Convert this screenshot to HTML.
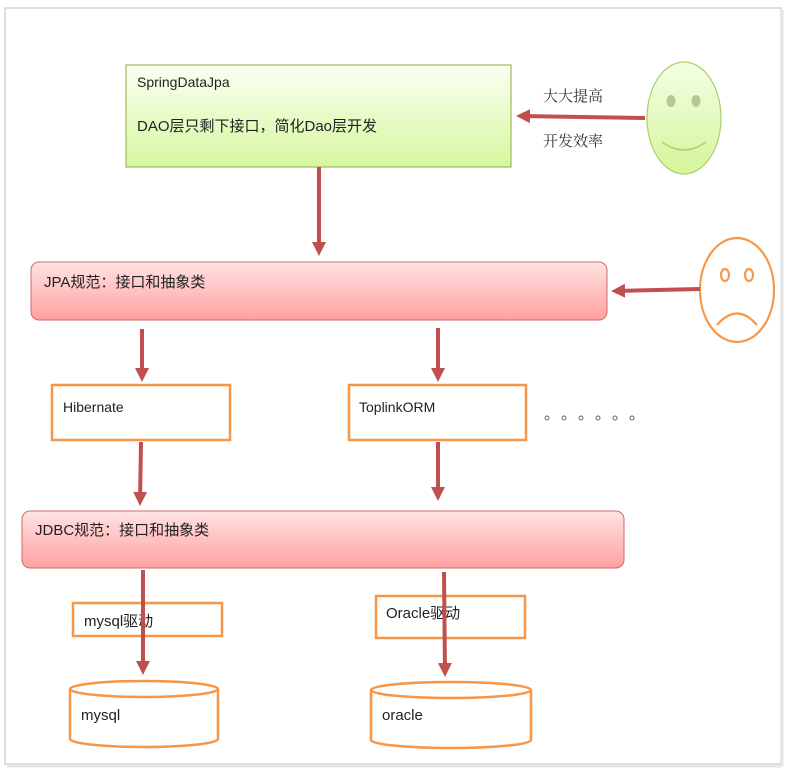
<!DOCTYPE html>
<html><head><meta charset="utf-8"><style>
html,body{margin:0;padding:0;background:#fff;width:791px;height:773px;overflow:hidden}
text{font-family:"Liberation Sans","Noto Sans CJK SC",sans-serif;font-size:14px;fill:#222}
</style></head><body>
<svg width="791" height="773" viewBox="0 0 791 773" xmlns="http://www.w3.org/2000/svg">
<defs>
<linearGradient id="g" x1="0" y1="0" x2="0" y2="1"><stop offset="0" stop-color="#fbfff2"/><stop offset="1" stop-color="#d6f7a0"/></linearGradient>
<linearGradient id="p" x1="0" y1="0" x2="0" y2="1"><stop offset="0" stop-color="#ffe3e3"/><stop offset="1" stop-color="#ffa0a0"/></linearGradient>
<linearGradient id="f" x1="0" y1="0" x2="0" y2="1"><stop offset="0" stop-color="#f4ffe6"/><stop offset="1" stop-color="#d4f59a"/></linearGradient>
<marker id="a" markerWidth="3.5" markerHeight="3.5" refX="2.5" refY="1.75" orient="auto" markerUnits="strokeWidth"><path d="M0,0 L3.5,1.75 L0,3.5 z" fill="#c0504d"/></marker>
</defs>
<rect x="5" y="8" width="776" height="756" fill="#fff" stroke="#d4d4d4" stroke-width="1.5"/>
<line x1="782" y1="10" x2="782" y2="766" stroke="#e6e6e6" stroke-width="3"/>
<line x1="7" y1="766" x2="782" y2="766" stroke="#e6e6e6" stroke-width="3"/>

<rect x="126" y="65" width="385" height="102" fill="url(#g)" stroke="#9bbb59" stroke-width="1.2"/>
<text x="137" y="87">SpringDataJpa</text>
<text x="137" y="131" style="font-size:15px">DAO层只剩下接口，简化Dao层开发</text>

<ellipse cx="684" cy="118" rx="37" ry="56" fill="url(#f)" stroke="#a9d070" stroke-width="1.2"/>
<ellipse cx="671" cy="101" rx="4.5" ry="6" fill="#b5c98f"/>
<ellipse cx="696" cy="101" rx="4.5" ry="6" fill="#b5c98f"/>
<path d="M662,142 Q684,158 706,142" fill="none" stroke="#a9d070" stroke-width="1.4"/>
<text x="543" y="101" style="font-family:'Liberation Serif','Noto Serif CJK SC',serif;font-size:15px;fill:#333">大大提高</text>
<text x="543" y="146" style="font-family:'Liberation Serif','Noto Serif CJK SC',serif;font-size:15px;fill:#333">开发效率</text>
<line x1="645" y1="118" x2="520" y2="116" stroke="#c0504d" stroke-width="4" marker-end="url(#a)"/>

<line x1="319" y1="167" x2="319" y2="252" stroke="#c0504d" stroke-width="4" marker-end="url(#a)"/>

<rect x="31" y="262" width="576" height="58" rx="8" fill="url(#p)" stroke="#d06a6a" stroke-width="1"/>
<text x="44" y="287" style="font-size:15px">JPA规范：接口和抽象类</text>

<ellipse cx="737" cy="290" rx="37" ry="52" fill="#fff" stroke="#f79646" stroke-width="2.2"/>
<ellipse cx="725" cy="275" rx="4" ry="6" fill="none" stroke="#f79646" stroke-width="2.2"/>
<ellipse cx="749" cy="275" rx="4" ry="6" fill="none" stroke="#f79646" stroke-width="2.2"/>
<path d="M717,325 Q737,302 757,325" fill="none" stroke="#f79646" stroke-width="2.2"/>
<line x1="700" y1="289" x2="615" y2="291" stroke="#c0504d" stroke-width="4" marker-end="url(#a)"/>

<line x1="142" y1="329" x2="142" y2="378" stroke="#c0504d" stroke-width="4" marker-end="url(#a)"/>
<line x1="438" y1="328" x2="438" y2="378" stroke="#c0504d" stroke-width="4" marker-end="url(#a)"/>

<rect x="52" y="385" width="178" height="55" fill="#fff" stroke="#f79646" stroke-width="2.5"/>
<text x="63" y="412">Hibernate</text>
<rect x="349" y="385" width="177" height="55" fill="#fff" stroke="#f79646" stroke-width="2.5"/>
<text x="359" y="412">ToplinkORM</text>
<g fill="none" stroke="#666" stroke-width="1">
<circle cx="547" cy="418" r="2"/><circle cx="564" cy="418" r="2"/><circle cx="581" cy="418" r="2"/><circle cx="598" cy="418" r="2"/><circle cx="615" cy="418" r="2"/><circle cx="632" cy="418" r="2"/>
</g>

<line x1="141" y1="442" x2="140" y2="502" stroke="#c0504d" stroke-width="4" marker-end="url(#a)"/>
<line x1="438" y1="442" x2="438" y2="497" stroke="#c0504d" stroke-width="4" marker-end="url(#a)"/>

<rect x="22" y="511" width="602" height="57" rx="8" fill="url(#p)" stroke="#d06a6a" stroke-width="1"/>
<text x="35" y="535" style="font-size:15px">JDBC规范：接口和抽象类</text>

<rect x="73" y="603" width="149" height="33" fill="none" stroke="#f79646" stroke-width="2.5"/>
<text x="84" y="626" style="font-size:15px">mysql驱动</text>
<rect x="376" y="596" width="149" height="42" fill="none" stroke="#f79646" stroke-width="2.5"/>
<text x="386" y="618" style="font-size:15px">Oracle驱动</text>

<line x1="143" y1="570" x2="143" y2="671" stroke="#c0504d" stroke-width="4" marker-end="url(#a)"/>
<line x1="444" y1="572" x2="445" y2="673" stroke="#c0504d" stroke-width="4" marker-end="url(#a)"/>

<path d="M70,689 L70,739 A74,8 0 0 0 218,739 L218,689" fill="#fff" stroke="#f79646" stroke-width="2.5"/>
<ellipse cx="144" cy="689" rx="74" ry="8" fill="#fff" stroke="#f79646" stroke-width="2.5"/>
<text x="81" y="720" style="font-size:15px">mysql</text>
<path d="M371,690 L371,740 A80,8 0 0 0 531,740 L531,690" fill="#fff" stroke="#f79646" stroke-width="2.5"/>
<ellipse cx="451" cy="690" rx="80" ry="8" fill="#fff" stroke="#f79646" stroke-width="2.5"/>
<text x="382" y="720" style="font-size:15px">oracle</text>
</svg>
</body></html>
